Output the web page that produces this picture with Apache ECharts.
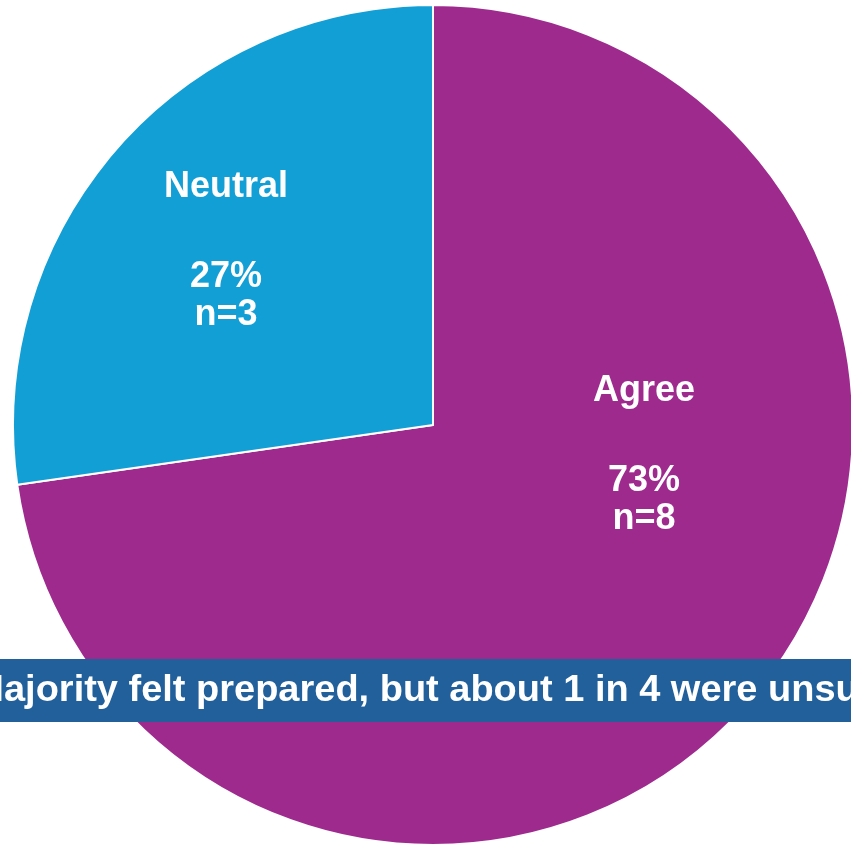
<!DOCTYPE html>
<html>
<head>
<meta charset="utf-8">
<script src="https://cdn.jsdelivr.net/npm/echarts@6/dist/echarts.min.js"></script>
<style>html,body{margin:0;padding:0;background:#fff}#c{width:851px;height:845px}</style>
</head>
<body>
<div id="c"></div>
<script>
const categories = ['Agree', 'Neutral'];
const counts = [8, 3];
const sliceColors = ['#9E2A8E', '#129FD6'];
const bannerText = 'Majority felt prepared, but about 1 in 4 were unsure';

const chart = echarts.init(document.getElementById('c'), null, {renderer: 'canvas'});
const labelFont = 'Liberation Sans';
const bannerFontSize = 36;
const bannerStretch = 1.055;
const cv = document.createElement('canvas').getContext('2d');
cv.font = 'bold ' + bannerFontSize + 'px "' + labelFont + '"';
const mWidth = cv.measureText('M').width * bannerStretch;
const bannerX = 4 - mWidth;

const labelPos = [[644, 429], [226, 225]];

chart.setOption({
  animation: false,
  series: [{
    type: 'pie',
    center: [433, 425],
    radius: 420,
    startAngle: 90,
    clockwise: true,
    percentPrecision: 0,
    data: categories.map((c, i) => ({name: c, value: counts[i], itemStyle: {color: sliceColors[i]}})),
    itemStyle: {borderColor: '#fff', borderWidth: 2},
    label: {
      show: true,
      position: 'inside',
      formatter: p => '{n|' + p.name + '}\n{v|' + Math.round(p.percent) + '%}\n{v|n=' + p.value + '}',
      rich: {
        n: {fontFamily: labelFont, fontWeight: 'bold', fontSize: 36, color: '#fff', lineHeight: 142, align: 'center'},
        v: {fontFamily: labelFont, fontWeight: 'bold', fontSize: 36, color: '#fff', lineHeight: 38, align: 'center'}
      }
    },
    labelLayout: p => ({x: labelPos[p.dataIndex][0], y: labelPos[p.dataIndex][1], align: 'center', verticalAlign: 'middle'}),
    emphasis: {disabled: true}
  }],
  graphic: [
    {type: 'rect', left: 0, top: 659, z: 100, shape: {width: 851, height: 63}, style: {fill: '#22609B'}},
    {type: 'text', x: bannerX, y: 691, scaleX: bannerStretch, z: 101, style: {text: bannerText, fill: '#fff', font: 'bold ' + bannerFontSize + 'px "' + labelFont + '"', textAlign: 'left', textVerticalAlign: 'middle'}}
  ]
});
</script>
</body>
</html>
